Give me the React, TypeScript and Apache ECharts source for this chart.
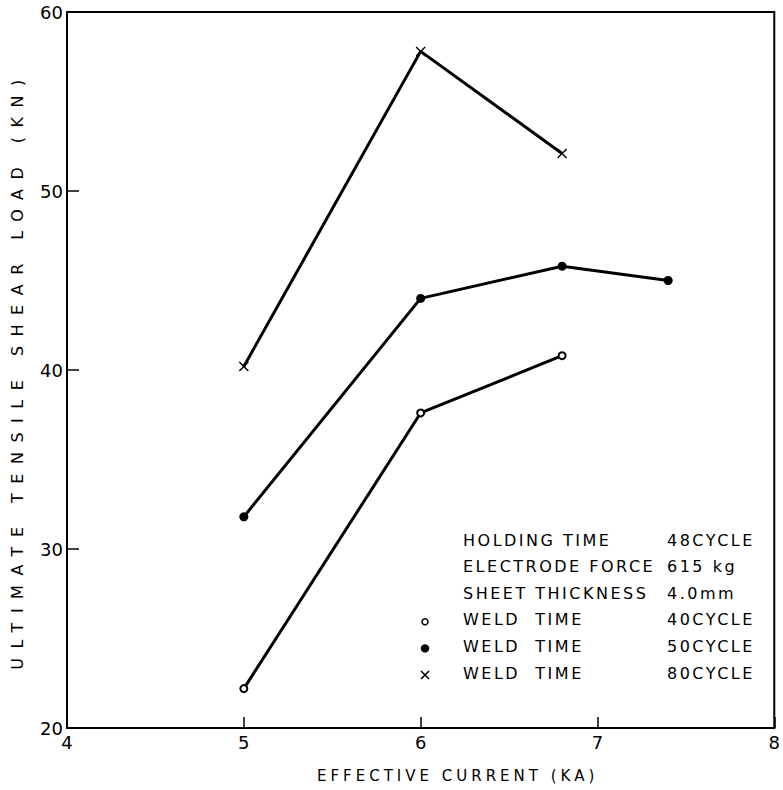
import React, { useEffect, useRef } from "react";
import * as echarts from "echarts";

const currentOpen = [5, 6, 6.8];
const loadOpen = [22.2, 37.6, 40.8];
const currentFilled = [5, 6, 6.8, 7.4];
const loadFilled = [31.8, 44.0, 45.8, 45.0];
const currentCross = [5, 6, 6.8];
const loadCross = [40.2, 57.8, 52.1];

const legendRows = [
  { marker: "", label: "HOLDING TIME", value: "48CYCLE" },
  { marker: "", label: "ELECTRODE FORCE", value: "615 kg" },
  { marker: "", label: "SHEET THICKNESS", value: "4.0mm" },
  { marker: "open", label: "WELD  TIME", value: "40CYCLE" },
  { marker: "filled", label: "WELD  TIME", value: "50CYCLE" },
  { marker: "cross", label: "WELD  TIME", value: "80CYCLE" },
];

const X_NAME = "EFFECTIVE CURRENT (KA)";
const Y_NAME = "ULTIMATE TENSILE SHEAR LOAD (KN)";

const FONT = "DejaVu Sans";
const CROSS = "path://M0,1 L1,0 L5,4 L9,0 L10,1 L6,5 L10,9 L9,10 L5,6 L1,10 L0,9 L4,5 Z";

const pairs = (xs: number[], ys: number[]) => xs.map((x, i) => [x, ys[i]]);

export default function App() {
  const ref = useRef<HTMLDivElement>(null);
  useEffect(() => {
    document.body.style.margin = "0";
    const chart = echarts.init(ref.current!, null, { renderer: "svg" });
    const rowTop = 532;
    const rowGap = 26.6;
    const graphics: any[] = [];
    legendRows.forEach((r, i) => {
      const y = rowTop + i * rowGap;
      graphics.push({
        type: "text", left: 463, top: y,
        style: { text: r.label, font: `16px "${FONT}"`, fill: "#000" },
      });
      graphics.push({
        type: "text", left: 667, top: y,
        style: { text: r.value, font: `16px "${FONT}"`, fill: "#000" },
      });
      const cy = y + 10;
      if (r.marker === "open") {
        graphics.push({ type: "circle", shape: { cx: 425, cy, r: 3 }, style: { fill: "#fff", stroke: "#000", lineWidth: 1.5 } });
      } else if (r.marker === "filled") {
        graphics.push({ type: "circle", shape: { cx: 425, cy, r: 4.2 }, style: { fill: "#000" } });
      } else if (r.marker === "cross") {
        graphics.push({ type: "line", shape: { x1: 421, y1: cy - 4, x2: 429, y2: cy + 4 }, style: { stroke: "#000", lineWidth: 1.6 } });
        graphics.push({ type: "line", shape: { x1: 429, y1: cy - 4, x2: 421, y2: cy + 4 }, style: { stroke: "#000", lineWidth: 1.6 } });
      }
    });

    const legendTexts = new Set<string>();
    legendRows.forEach((r) => { legendTexts.add(r.label.trim()); legendTexts.add(r.value.trim()); });
    const applySpacing = () => {
      const root = ref.current;
      if (!root) return;
      root.querySelectorAll("text").forEach((t) => {
        const s = (t.textContent || "").trim();
        let ls = 0;
        if (s === Y_NAME) ls = 9.5;
        else if (s === X_NAME) ls = 4;
        else if (legendTexts.has(s)) ls = 2.5;
        if (ls) t.setAttribute("letter-spacing", String(ls));
      });
    };
    chart.on("finished", applySpacing);

    const lineStyle = { color: "#000", width: 3 };
    chart.setOption({
      animation: false,
      backgroundColor: "#fff",
      grid: { left: 67, right: 1, top: 12, bottom: 62, show: true, borderColor: "#000", borderWidth: 2, containLabel: false },
      xAxis: {
        type: "value", min: 4, max: 8, interval: 1,
        name: X_NAME, nameLocation: "middle", nameGap: 40,
        nameTextStyle: { fontFamily: FONT, fontSize: 15, color: "#000", padding: [0, 0, 0, 74] },
        axisLine: { show: false },
        axisTick: { show: true, inside: true, length: 11, lineStyle: { color: "#000", width: 1.5 } },
        axisLabel: { fontFamily: FONT, fontSize: 18, color: "#000", margin: 5 },
        splitLine: { show: false },
      },
      yAxis: {
        type: "value", min: 20, max: 60, interval: 10,
        name: Y_NAME, nameLocation: "middle", nameGap: 42, nameRotate: 90,
        nameTextStyle: { fontFamily: FONT, fontSize: 16, color: "#000" },
        axisLine: { show: false },
        axisTick: { show: true, inside: true, length: 12, lineStyle: { color: "#000", width: 1.5 } },
        axisLabel: { fontFamily: FONT, fontSize: 18, color: "#000", margin: 4 },
        splitLine: { show: false },
      },
      series: [
        {
          type: "line", name: "WELD TIME 40CYCLE", data: pairs(currentOpen, loadOpen),
          symbol: "emptyCircle", symbolSize: 7, lineStyle,
          itemStyle: { color: "#000", borderColor: "#000", borderWidth: 1.5 },
        },
        {
          type: "line", name: "WELD TIME 50CYCLE", data: pairs(currentFilled, loadFilled),
          symbol: "circle", symbolSize: 9, lineStyle, itemStyle: { color: "#000" },
        },
        {
          type: "line", name: "WELD TIME 80CYCLE", data: pairs(currentCross, loadCross),
          symbol: CROSS, symbolSize: 10, lineStyle, itemStyle: { color: "#000" },
        },
      ],
      graphic: graphics,
    });
    applySpacing();
    const raf = requestAnimationFrame(applySpacing);
    return () => { cancelAnimationFrame(raf); chart.dispose(); };
  }, []);
  return <div ref={ref} style={{ position: "absolute", left: 0, top: 0, width: 783, height: 790 }} />;
}
